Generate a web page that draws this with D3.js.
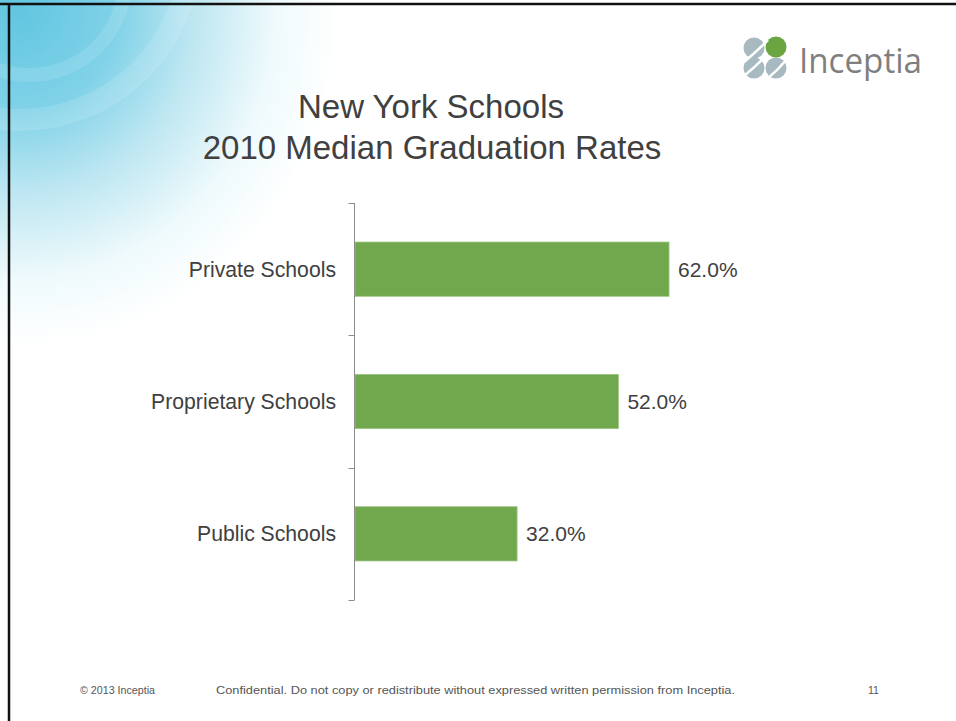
<!DOCTYPE html>
<html>
<head>
<meta charset="utf-8">
<script src="https://cdn.jsdelivr.net/npm/d3@7"></script>
<style>
  html, body { margin: 0; padding: 0; background: #fff; }
  svg { display: block; }
</style>
</head>
<body>
<svg id="chart" width="956" height="721"></svg>
<script>
// ---- data ----
const categories = ["Private Schools", "Proprietary Schools", "Public Schools"];
const values = [62.0, 52.0, 32.0];
const titleLines = ["New York Schools", "2010 Median Graduation Rates"];
const footerLeft = "© 2013 Inceptia";
const footerCenter = "Confidential. Do not copy or redistribute without expressed written permission from Inceptia.";
const footerRight = "11";

(function () {
const svg = d3.select("#chart");
const W = 956, H = 721;

// ---- background ----
const defs = svg.append("defs");
const rg = defs.append("radialGradient").attr("id", "bgGrad")
  .attr("gradientUnits", "userSpaceOnUse")
  .attr("cx", 20).attr("cy", 10).attr("r", 320)
  .attr("gradientTransform", "translate(20,10) scale(1,1.05) translate(-20,-10)");
rg.append("stop").attr("offset", "0").attr("stop-color", "#62c6e1");
rg.append("stop").attr("offset", "0.3").attr("stop-color", "#80d2e8");
rg.append("stop").attr("offset", "0.55").attr("stop-color", "#bfe7f2");
rg.append("stop").attr("offset", "0.8").attr("stop-color", "#effafc");
rg.append("stop").attr("offset", "1").attr("stop-color", "#ffffff");

svg.append("rect").attr("width", W).attr("height", H).attr("fill", "#fff");
svg.append("rect").attr("width", W).attr("height", H).attr("fill", "url(#bgGrad)");

// subtle swirl arcs
svg.append("circle").attr("cx", 30).attr("cy", -20).attr("r", 95)
  .attr("fill", "none").attr("stroke", "#ffffff").attr("stroke-opacity", 0.12).attr("stroke-width", 14);
svg.append("circle").attr("cx", 20).attr("cy", -50).attr("r", 170)
  .attr("fill", "none").attr("stroke", "#ffffff").attr("stroke-opacity", 0.13).attr("stroke-width", 22);

// slide border (top & left)
svg.append("line").attr("x1", 0).attr("x2", W).attr("y1", 4).attr("y2", 4)
  .attr("stroke", "#111").attr("stroke-width", 2.5);
svg.append("line").attr("x1", 9).attr("x2", 9).attr("y1", 3).attr("y2", H)
  .attr("stroke", "#111").attr("stroke-width", 2.5);

// ---- logo ----
const logo = svg.append("g");
const gray = "#a7b9c1";
[[754, 48], [754, 68], [776, 68]].forEach(([cx, cy]) => {
  logo.append("circle").attr("cx", cx).attr("cy", cy).attr("r", 10.5).attr("fill", gray);
});
logo.append("circle").attr("cx", 776).attr("cy", 47).attr("r", 10.5).attr("fill", "#6aa542");
logo.append("path").attr("d", "M744,62 Q756,52 768,40").attr("fill", "none")
  .attr("stroke", "#fff").attr("stroke-width", 2.5);
logo.append("path").attr("d", "M744,76 Q756,66 766,56").attr("fill", "none")
  .attr("stroke", "#fff").attr("stroke-width", 2.5);
logo.append("path").attr("d", "M766,80 Q778,70 788,58").attr("fill", "none")
  .attr("stroke", "#fff").attr("stroke-width", 2.5);
logo.append("text").attr("x", 799).attr("y", 73)
  .attr("font-family", "'Open Sans', sans-serif").attr("font-size", 34)
  .attr("fill", "#7f7f7f").attr("textLength", 123).attr("lengthAdjust", "spacingAndGlyphs")
  .text("Inceptia");

// ---- title ----
const textColor = "#404040";
svg.append("text").attr("x", 431).attr("y", 118).attr("text-anchor", "middle")
  .attr("font-family", "'Liberation Sans', Arial, sans-serif").attr("font-size", 33)
  .attr("fill", textColor).text(titleLines[0]);
svg.append("text").attr("x", 432).attr("y", 159).attr("text-anchor", "middle")
  .attr("font-family", "'Liberation Sans', Arial, sans-serif").attr("font-size", 33)
  .attr("fill", textColor).text(titleLines[1]);

// ---- chart ----
const x0 = 355, yTop = 203, yBottom = 600;
const x = d3.scaleLinear().domain([0, 100]).range([x0, x0 + 506.5]);
const y = d3.scaleBand().domain(categories).range([yTop, yBottom])
  .paddingInner(0.59).paddingOuter(0.295);

const g = svg.append("g");

g.selectAll("rect.bar").data(categories).join("rect")
  .attr("class", "bar")
  .attr("x", x(0))
  .attr("y", d => y(d))
  .attr("width", (d, i) => x(values[i]) - x(0))
  .attr("height", y.bandwidth())
  .attr("fill", "#71a84e")
  .attr("stroke", "#9cc783").attr("stroke-width", 0.8);

g.append("line").attr("x1", x0 - 0.5).attr("x2", x0 - 0.5).attr("y1", yTop).attr("y2", yBottom)
  .attr("stroke", "#8c8c8c").attr("stroke-width", 1);
const tickYs = d3.range(categories.length + 1).map(i => yTop + i * (yBottom - yTop) / categories.length);
g.selectAll("line.tick").data(tickYs).join("line")
  .attr("class", "tick")
  .attr("x1", x0 - 6.5).attr("x2", x0 - 0.5)
  .attr("y1", d => Math.round(d) + 0.5).attr("y2", d => Math.round(d) + 0.5)
  .attr("stroke", "#8c8c8c").attr("stroke-width", 1);

g.selectAll("text.cat").data(categories).join("text")
  .attr("class", "cat")
  .attr("x", 336)
  .attr("y", d => y(d) + y.bandwidth() / 2)
  .attr("dy", "0.35em")
  .attr("text-anchor", "end")
  .attr("font-family", "'Liberation Sans', Arial, sans-serif").attr("font-size", 21.2)
  .attr("fill", textColor)
  .text(d => d);

const fmt = d3.format(".1f");
g.selectAll("text.val").data(categories).join("text")
  .attr("class", "val")
  .attr("x", (d, i) => x(values[i]) + 9)
  .attr("y", d => y(d) + y.bandwidth() / 2)
  .attr("dy", "0.35em")
  .attr("font-family", "'Liberation Sans', Arial, sans-serif").attr("font-size", 21)
  .attr("fill", textColor)
  .text((d, i) => fmt(values[i]) + "%");

// ---- footer ----
const ff = "'Liberation Sans', Arial, sans-serif";
svg.append("text").attr("x", 80).attr("y", 694)
  .attr("font-family", ff).attr("font-size", 10.5).attr("fill", "#555")
  .attr("textLength", 75).attr("lengthAdjust", "spacingAndGlyphs").text(footerLeft);
svg.append("text").attr("x", 216).attr("y", 694)
  .attr("font-family", ff).attr("font-size", 10.5).attr("fill", "#555")
  .attr("textLength", 519).attr("lengthAdjust", "spacingAndGlyphs").text(footerCenter);
svg.append("text").attr("x", 868).attr("y", 694)
  .attr("font-family", ff).attr("font-size", 10.5).attr("fill", "#555")
  .text(footerRight);
})();
</script>
</body>
</html>
